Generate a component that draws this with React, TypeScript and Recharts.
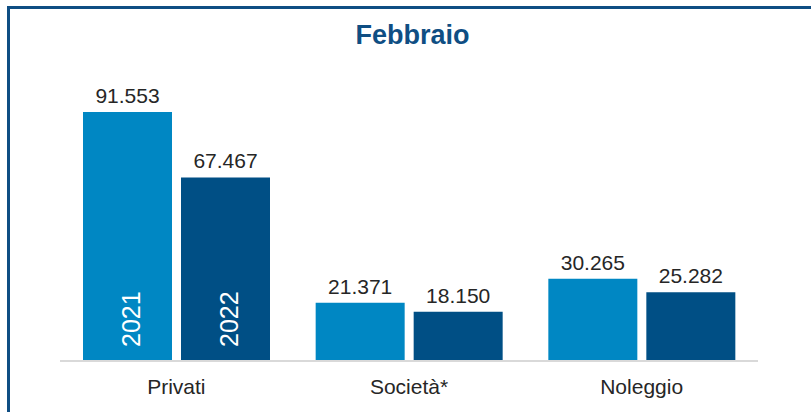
import React from "react";
import { BarChart, Bar, XAxis, YAxis, LabelList } from "recharts";

const categories = ["Privati", "Società*", "Noleggio"];
const values2021 = [91553, 21371, 30265];
const values2022 = [67467, 18150, 25282];
const seriesYears = ["2021", "2022"];

const data = categories.map((c, i) => ({
  name: c,
  v2021: values2021[i],
  v2022: values2022[i],
}));

const fmt = (v: number) => v.toLocaleString("de-DE");

const FONT = "'Liberation Sans', Arial, Helvetica, sans-serif";

const makeYearLabel = (year: string) => (props: any) => {
  const { x, y, width, height, index } = props;
  if (index !== 0) return null;
  const px = Number(x) + Number(width) / 2 + 12.5;
  const py = Number(y) + Number(height) - 14;
  return (
    <text
      x={px}
      y={py}
      transform={`rotate(-90 ${px} ${py})`}
      textAnchor="start"
      fill="#ffffff"
      fontSize={25}
      fontFamily={FONT}
    >
      {year}
    </text>
  );
};

export default function App() {
  return (
    <div
      style={{
        position: "absolute",
        left: 0,
        top: 0,
        width: 811,
        height: 412,
        overflow: "hidden",
        background: "#ffffff",
        fontFamily: FONT,
      }}
    >
      <div
        style={{
          position: "absolute",
          left: 7,
          top: 6,
          width: 900,
          height: 500,
          border: "3px solid #0F4E83",
          boxSizing: "border-box",
        }}
      />
      <div
        style={{
          position: "absolute",
          left: 0,
          top: 19,
          width: 825,
          textAlign: "center",
          fontSize: 27,
          fontWeight: "bold",
          color: "#0F4E83",
          fontFamily: FONT,
          lineHeight: "32px",
        }}
      >
        Febbraio
      </div>
      <div style={{ position: "absolute", left: 0, top: 0 }}>
        <BarChart
          width={811}
          height={412}
          data={data}
          margin={{ top: 89, right: 53, bottom: 0, left: 60 }}
          barSize={89}
          barGap={9}
        >
          <XAxis
            dataKey="name"
            height={51}
            tickLine={false}
            axisLine={{ stroke: "#D9D9D9", strokeWidth: 2 }}
            tickMargin={12}
            tick={{ fill: "#262626", fontSize: 21, fontFamily: FONT }}
            interval={0}
          />
          <YAxis hide domain={[0, 100000]} />
          <Bar dataKey="v2021" fill="#0087C3" isAnimationActive={false}>
            <LabelList
              dataKey="v2021"
              position="top"
              offset={9}
              formatter={(v: any) => fmt(Number(v))}
              style={{ fill: "#262626", fontSize: 21, fontFamily: FONT }}
            />
            <LabelList dataKey="v2021" content={makeYearLabel(seriesYears[0])} />
          </Bar>
          <Bar dataKey="v2022" fill="#004F85" isAnimationActive={false}>
            <LabelList
              dataKey="v2022"
              position="top"
              offset={9}
              formatter={(v: any) => fmt(Number(v))}
              style={{ fill: "#262626", fontSize: 21, fontFamily: FONT }}
            />
            <LabelList dataKey="v2022" content={makeYearLabel(seriesYears[1])} />
          </Bar>
        </BarChart>
      </div>
    </div>
  );
}
